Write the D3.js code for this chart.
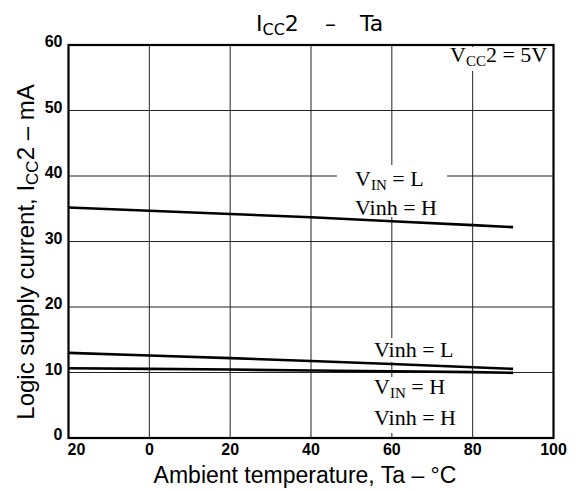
<!DOCTYPE html>
<html>
<head>
<meta charset="utf-8">
<script src="https://cdn.jsdelivr.net/npm/d3@7"></script>
<style>
  body { margin: 0; background: #fff; }
  svg { display: block; }
  .tick-lbl { font-family: "Liberation Sans", Arial, sans-serif; font-weight: bold; font-size: 16px; }
  .ax-title { font-family: "Liberation Sans", Arial, sans-serif; font-size: 23px; }
  .note { font-family: "Liberation Serif", "Times New Roman", serif; font-size: 22px; }
</style>
</head>
<body>
<svg id="chart" width="576" height="491"></svg>
<script>
  // ---- data ----
  var temps = [-20, 0, 20, 40, 60, 80, 90];
  var vinL_inhH = [35.2, 34.7, 34.2, 33.7, 33.1, 32.5, 32.2];
  var inhL = [13.0, 12.6, 12.2, 11.75, 11.3, 10.8, 10.55];
  var vinH_inhH = [10.65, 10.55, 10.45, 10.3, 10.2, 10.05, 9.95];

  var xTicks = [-20, 0, 20, 40, 60, 80, 100];
  var yTicks = [0, 10, 20, 30, 40, 50, 60];

  var svg = d3.select("#chart");
  // plot box (note: "top" is reserved on window, so use other names)
  var pLeft = 68.5, pRight = 553.5, pTop = 45, pBottom = 438;

  var x = d3.scaleLinear().domain([-20, 100]).range([pLeft, pRight]);
  var y = d3.scaleLinear().domain([0, 60]).range([pBottom, pTop]);

  // grid lines
  var grid = svg.append("g").attr("stroke", "#222").attr("stroke-width", 1);
  grid.selectAll("line.v")
    .data(xTicks.slice(1, -1))
    .enter().append("line")
      .attr("class", "v")
      .attr("x1", function(d) {return x(d);})
      .attr("x2", function(d) {return x(d);})
      .attr("y1", pTop).attr("y2", pBottom);
  grid.selectAll("line.h")
    .data(yTicks.slice(1, -1))
    .enter().append("line")
      .attr("class", "h")
      .attr("y1", function(d) {return y(d);})
      .attr("y2", function(d) {return y(d);})
      .attr("x1", pLeft).attr("x2", pRight);

  // curves
  var series = [vinL_inhH, inhL, vinH_inhH];
  var line = d3.line()
    .x(function(d, i) {return x(temps[i]);})
    .y(function(d) {return y(d);});
  svg.append("g").selectAll("path")
    .data(series)
    .enter().append("path")
      .attr("d", line)
      .attr("fill", "none")
      .attr("stroke", "#000")
      .attr("stroke-width", 2.6);

  // labels with white boxes that break the grid
  function note(lines, xs, ys, box) {
    var g = svg.append("g");
    g.append("rect")
      .attr("x", box[0]).attr("y", box[1])
      .attr("width", box[2]).attr("height", box[3])
      .attr("fill", "#fff");
    lines.forEach(function(parts, i) {
      var t = g.append("text").attr("class", "note")
        .attr("x", xs).attr("y", ys[i]);
      parts.forEach(function(p) {
        var ts = t.append("tspan").text(p[0]);
        if (p[1] === "sub") {
          ts.attr("font-size", "15px").attr("dy", 4);
        } else if (p[1] === "back") {
          ts.attr("dy", -4);
        }
      });
    });
  }

  note([[["V"], ["IN", "sub"], [" = L", "back"]], [["Vinh = H"]]],
       355, [186, 215], [337, 165, 110, 52]);
  note([[["Vinh = L"]]], 374, [357], [372, 338, 88, 24]);
  note([[["V"], ["IN", "sub"], [" = H", "back"]], [["Vinh = H"]]],
       374, [394, 425], [372, 377, 92, 56]);
  note([[["V"], ["CC", "sub"], ["2 = 5V", "back"]]], 450, [62], [446, 47, 105, 24]);

  // frame
  svg.append("rect")
    .attr("x", pLeft).attr("y", pTop)
    .attr("width", pRight - pLeft).attr("height", pBottom - pTop)
    .attr("fill", "none").attr("stroke", "#000").attr("stroke-width", 2.2);

  // tick labels (the minus of -20 is lost in the original)
  svg.append("g").selectAll("text")
    .data(xTicks)
    .enter().append("text")
      .attr("class", "tick-lbl")
      .attr("x", function(d) {return x(d) + (d < 0 ? 8 : 0);})
      .attr("y", 455)
      .attr("text-anchor", "middle")
      .text(function(d) {return Math.abs(d);});
  svg.append("g").selectAll("text")
    .data(yTicks)
    .enter().append("text")
      .attr("class", "tick-lbl")
      .attr("x", pLeft - 6)
      .attr("y", function(d) {return y(d) + 2;})
      .attr("text-anchor", "end")
      .text(function(d) {return d;});

  // titles
  var title = svg.append("text")
    .attr("font-family", "'DejaVu Sans', sans-serif")
    .attr("font-size", 22)
    .attr("x", 256).attr("y", 31);
  title.append("tspan").text("I");
  title.append("tspan").text("CC").attr("font-size", 16).attr("dy", 4);
  title.append("tspan").text("2").attr("dy", -4);
  title.append("tspan").text("–").attr("x", 325);
  title.append("tspan").text("Ta").attr("x", 360);

  svg.append("text")
    .attr("class", "ax-title")
    .attr("x", 305).attr("y", 483)
    .attr("text-anchor", "middle")
    .text("Ambient temperature, Ta – °C");

  var yt = svg.append("text")
    .attr("class", "ax-title")
    .style("font-size", "24px")
    .attr("transform", "translate(34,252) rotate(-90)")
    .attr("text-anchor", "middle");
  yt.append("tspan").text("Logic supply current, I");
  yt.append("tspan").text("CC").style("font-size", "17px").attr("dy", 4);
  yt.append("tspan").text("2 – mA").attr("dy", -4);
</script>
</body>
</html>
